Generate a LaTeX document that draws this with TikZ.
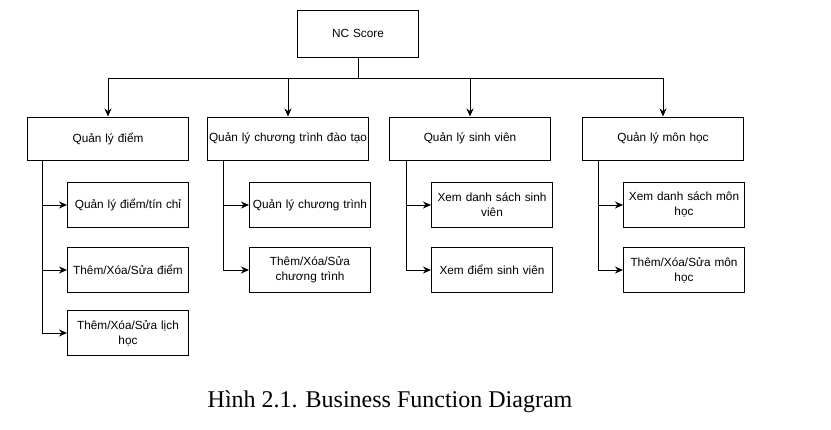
\documentclass[tikz,border=0pt]{standalone}
\usepackage{fontspec}
\setmainfont{Liberation Serif}
\newfontfamily\boxfont{Liberation Sans}
\usetikzlibrary{arrows.meta}
\usetikzlibrary{positioning}
\begin{document}
\begin{tikzpicture}[x=1pt,y=-1pt]
			\tikzset{fbox/.style = {shape=rectangle,draw,line width=1pt,minimum width=120pt,
					minimum height=45pt,inner sep=1pt,align=center,
					text width=119pt,font=\boxfont\fontsize{11.8}{15}\selectfont}}
			\tikzset{mbox/.style = {fbox,minimum width=160pt,minimum height=43pt,text width=159pt}}
			\tikzset{edge/.style = {-{Stealth[length=8pt,width=7pt]},line width=1pt}}
			\tikzset{tree/.style = {line width=1pt}}
			\useasboundingbox (0,0) rectangle (831,429);
			
			% root
			\node[fbox,minimum height=47pt] (root) at (358,33.5) {NC Score};
			
			% level one
			\node[mbox] (diem) at (108,138.5) {Quản lý điểm};
			\node[mbox] (ctdt) at (288,138.5) {Quản lý chương trình đào tạo};
			\node[mbox] (sv) at (470,138.5) {Quản lý sinh viên};
			\node[mbox] (mh) at (663,138.5) {Quản lý môn học};
			
			% children
			\node[fbox] (d1) at (128,205) {Quản lý điểm/tín chỉ};
			\node[fbox] (d2) at (128,270) {Thêm/Xóa/Sửa điểm};
			\node[fbox] (d3) at (128,333) {Thêm/Xóa/Sửa lịch\\học};
			\node[fbox] (c1) at (310,205) {Quản lý chương trình};
			\node[fbox] (c2) at (310,270) {Thêm/Xóa/Sửa\\chương trình};
			\node[fbox] (s1) at (492,205) {Xem danh sách sinh\\viên};
			\node[fbox] (s2) at (492,270) {Xem điểm sinh viên};
			\node[fbox] (m1) at (684,205) {Xem danh sách môn\\học};
			\node[fbox] (m2) at (684,270) {Thêm/Xóa/Sửa môn\\học};
			
			%edges
			\coordinate (bus) at (0,78);
			\draw[tree] (root.south) -- (root.south |- bus);
			\draw[tree] (diem.north |- bus) -- (mh.north |- bus);
			\foreach \n in {diem,ctdt,sv,mh}
				\draw[edge] (\n.north |- bus) -- (\n.north);
			
			\foreach \p/\x/\last in {diem/42/d3,ctdt/223/c2,sv/406/s2,mh/598/m2}{
				\draw[tree] (\x,160) -- (\x,0 |- \last.west);
			}
			\foreach \x/\c in {42/d1,42/d2,42/d3,223/c1,223/c2,406/s1,406/s2,598/m1,598/m2}
				\draw[edge] (\x,0 |- \c.west) -- (\c.west);
			
			% caption
			\node[font=\fontsize{24}{28}\selectfont] (cap) at (390,402) {Hình 2.1. Business Function Diagram};
			
\end{tikzpicture}
\end{document}
